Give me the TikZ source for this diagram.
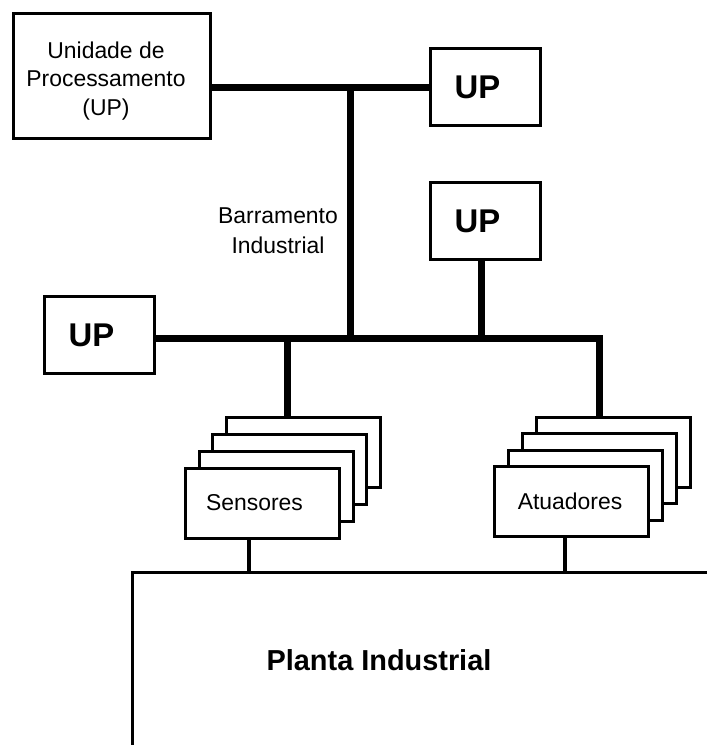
\documentclass[tikz,border=0pt]{standalone}
\usepackage{fontspec}
\setmainfont{Liberation Sans}
\begin{document}
\begin{tikzpicture}[x=1bp,y=-1bp,
  box/.style={draw, line width=3bp, fill=white, inner sep=0pt, outer sep=0pt},
  upbox/.style={box, minimum width=110bp, minimum height=77bp},
  card/.style={box, minimum width=154bp, minimum height=70bp},
  bus/.style={line width=7bp},
  tap/.style={line width=4bp},
  edge/.style={line width=3bp},
  txt/.style={font=\fontsize{23}{28.5}\selectfont, align=center, inner sep=0pt},
  upfont/.style={font=\fontsize{33}{36}\selectfont\bfseries, inner sep=0pt},
  bigfont/.style={font=\fontsize{29}{34}\selectfont\bfseries, inner sep=0pt}
]
\useasboundingbox (0,0) rectangle (707,745);

% processing units
\node[box, minimum width=197bp, minimum height=125bp] (unidade) at (112,76) {};
\node[txt] (unidadeTxt) at (106,81) {Unidade de\\Processamento\\(UP)};
\node[upbox, label={[upfont,xshift=-8bp]center:UP}] (upA) at (485.5,87) {};
\node[upbox, label={[upfont,xshift=-8bp]center:UP}] (upB) at (485.5,221) {};
\node[upbox, label={[upfont,xshift=-8bp]center:UP}] (upL) at (99.5,335) {};

% plant outline
\coordinate (ptop) at (132,572);
\draw[edge] (710,572) -- (ptop) -- (132,750);
\node[bigfont] (planta) at (379,660) {Planta Industrial};

% bus junctions
\coordinate (j1) at (350,87);
\coordinate (j2) at (350,338);
\coordinate (jS) at (287,338);
\coordinate (jR) at (599,338);
\coordinate (jB) at ([xshift=-4.5bp]upB.south);

% industrial bus
\draw[bus] (unidade.east |- upA.west) -- (upA.west);
\draw[bus] (j1) -- (j2);
\draw[bus] (upL.east |- j2) -- (jR) -- (599,418);
\draw[bus] (jB) -- (jB |- j2);
\draw[bus] (jS) -- (287,420);

\node[txt, font=\fontsize{23}{30}\selectfont] (barramento) at (278,231) {Barramento\\Industrial};

% sensor stack
\foreach \k in {3,2,1,0}
  \node[card] (s\k) at ({262.5+13.67*\k},{503-16.67*\k}) {};
\node[txt] (sensTxt) at ([xshift=-8bp]s0.center) {Sensores};

% actuator stack
\foreach \k in {3,2,1,0}
  \node[card] (a\k) at ({571+14*\k},{501.5-16.5*\k}) {};
\node[txt] (atuTxt) at ([xshift=-1bp]a0.center) {Atuadores};

% taps to the plant
\coordinate (sb) at ([xshift=-13.5bp]s0.south);
\coordinate (ab) at ([xshift=-6bp]a0.south);
\draw[tap] (sb) -- (sb |- ptop);
\draw[tap] (ab) -- (ab |- ptop);
\end{tikzpicture}
\end{document}
